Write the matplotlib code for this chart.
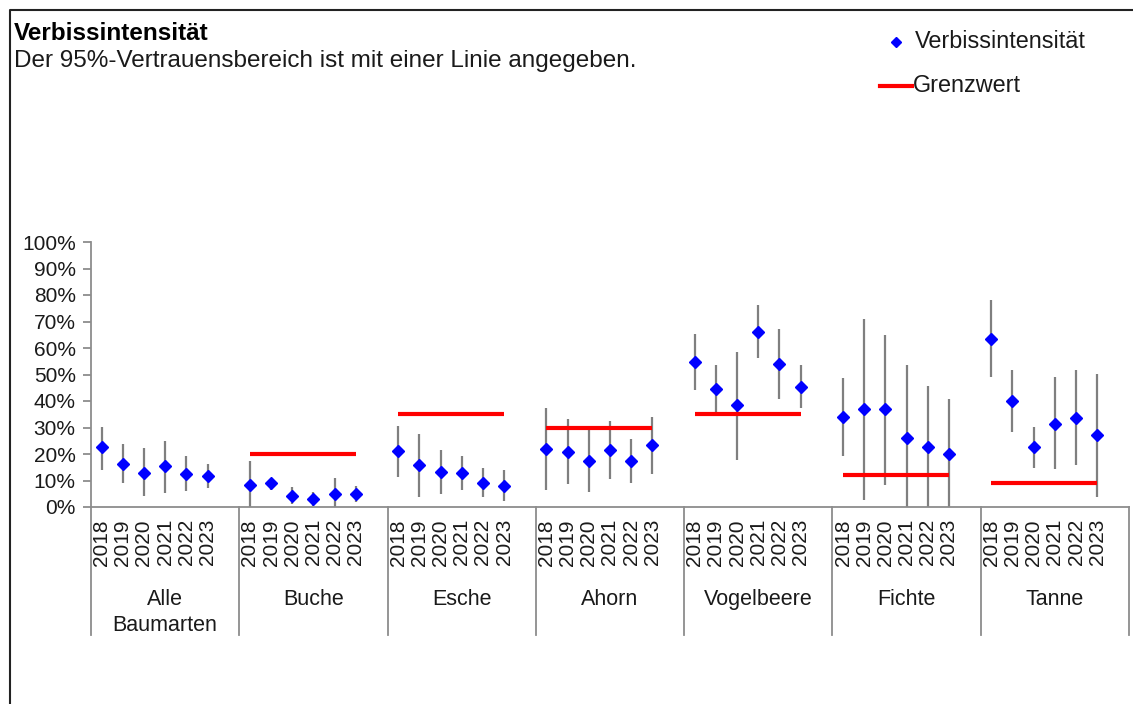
import matplotlib
matplotlib.use("Agg")
from matplotlib import pyplot as plt
from matplotlib.lines import Line2D
import matplotlib.transforms as mtrans

plt.rcParams['font.family'] = ['Liberation Sans', 'DejaVu Sans']

# --- Daten ---
gruppen = ['Alle\nBaumarten', 'Buche', 'Esche', 'Ahorn', 'Vogelbeere', 'Fichte', 'Tanne']
jahre = ['2018', '2019', '2020', '2021', '2022', '2023']

# Verbissintensität in %
wert = [
    [22.5, 16.4, 13.0, 15.3, 12.5, 11.7],
    [8.3, 9.0, 4.3, 2.9, 4.9, 4.9],
    [21.0, 15.8, 13.2, 13.0, 9.2, 8.1],
    [21.8, 20.7, 17.3, 21.6, 17.3, 23.3],
    [54.7, 44.5, 38.5, 66.2, 54.1, 45.4],
    [33.9, 37.1, 36.8, 25.9, 22.5, 19.9],
    [63.5, 40.1, 22.5, 31.5, 33.7, 27.0],
]
# 95%-Vertrauensbereich, untere und obere Grenze
unten = [
    [14.1, 9.1, 4.2, 5.3, 6.2, 7.1],
    [0.0, 6.6, 1.0, 0.3, 0.0, 1.8],
    [11.2, 3.8, 4.9, 6.3, 3.6, 2.4],
    [6.3, 8.5, 5.8, 10.6, 9.0, 12.4],
    [44.0, 35.7, 17.9, 56.2, 40.7, 37.2],
    [19.4, 2.8, 8.2, 0.0, 0.0, 0.0],
    [49.2, 28.3, 14.9, 14.3, 15.7, 3.7],
]
oben = [
    [30.3, 23.6, 22.1, 24.8, 19.1, 16.3],
    [17.2, 10.4, 7.7, 5.6, 10.9, 8.1],
    [30.6, 27.7, 21.4, 19.1, 14.9, 13.9],
    [37.2, 33.2, 28.9, 32.3, 25.5, 33.8],
    [65.2, 53.5, 58.5, 76.2, 67.2, 53.5],
    [48.6, 70.9, 64.9, 53.5, 45.5, 40.6],
    [78.3, 51.7, 30.3, 48.9, 51.7, 50.2],
]
# Grenzwert in % (None = kein Grenzwert)
grenzwert = [None, 20, 35, 30, 35, 12, 9]

slots = 7  # 6 Jahre + 1 Leerplatz je Gruppe

fig = plt.figure(figsize=(11.33, 7.04), dpi=100)
ax = fig.add_axes([91 / 1133, 197 / 704, 1038 / 1133, 265 / 704])

grau = '#8c8c8c'
for g in range(len(gruppen)):
    xs = [g * slots + k + 0.5 for k in range(len(jahre))]
    for k, x in enumerate(xs):
        ax.plot([x, x], [unten[g][k], oben[g][k]], color='#7f7f7f', lw=1.6,
                solid_capstyle='butt', zorder=2)
    ax.plot(xs, wert[g], ls='none', marker='D', ms=6.5, color='#0000ff',
            mec='#0000ff', zorder=4)
    if grenzwert[g] is not None:
        ax.plot([xs[0], xs[-1]], [grenzwert[g], grenzwert[g]], color='#ff0000',
                lw=3, solid_capstyle='butt', zorder=3)

ax.set_xlim(0, len(gruppen) * slots)
ax.set_ylim(0, 100)
ax.set_yticks(range(0, 101, 10))
ax.set_yticklabels([f'{v}%' for v in range(0, 101, 10)])
ax.set_xticks([])
for s in ['top', 'right']:
    ax.spines[s].set_visible(False)
for s in ['left', 'bottom']:
    ax.spines[s].set_color(grau)
    ax.spines[s].set_linewidth(1.3)
ax.tick_params(axis='y', direction='out', length=6, width=1.3, color=grau,
               labelsize=15, pad=5, labelcolor='#1a1a1a')

# Kategorienachse: Jahre, Gruppen und Trennlinien
trans = mtrans.blended_transform_factory(ax.transData, ax.transAxes)
for g in range(len(gruppen) + 1):
    ax.plot([g * slots, g * slots], [0, -128 / 265], transform=trans,
            color=grau, lw=1.3, clip_on=False)
for g, name in enumerate(gruppen):
    for k, j in enumerate(jahre):
        ax.text(g * slots + k + 0.5, -12 / 265, j, transform=trans, rotation=90,
                ha='center', va='top', fontsize=15, color='#1a1a1a')
    ax.text(g * slots + slots / 2, -82 / 265, name, transform=trans,
            ha='center', va='top', fontsize=15.5, color='#1a1a1a',
            linespacing=1.3)

# Titel
fig.text(14 / 1133, 1 - 33 / 704, 'Verbissintensität', fontsize=17.5,
         fontweight='bold', va='center', ha='left')
fig.text(14 / 1133, 1 - 61 / 704,
         'Der 95%-Vertrauensbereich ist mit einer Linie angegeben.',
         fontsize=17.5, va='center', ha='left', color='#1a1a1a')

# Legende
fig.add_artist(Line2D([896 / 1133], [1 - 42 / 704], marker='D', ms=5,
                      color='#0000ff', ls='none'))
fig.text(915 / 1133, 1 - 42 / 704, 'Verbissintensität', fontsize=16.8,
         va='center', ha='left', color='#1a1a1a')
fig.add_artist(Line2D([880 / 1133, 912 / 1133], [1 - 86 / 704, 1 - 86 / 704],
                      color='#ff0000', lw=3))
fig.text(913 / 1133, 1 - 86 / 704, 'Grenzwert', fontsize=16.8,
         va='center', ha='left', color='#1a1a1a')

# Rahmen
fig.add_artist(Line2D([10 / 1133, 10 / 1133, 1.0], [0, 1 - 10 / 704, 1 - 10 / 704],
                      color='#222222', lw=1.5))

fig.savefig('out.png', dpi=100)
